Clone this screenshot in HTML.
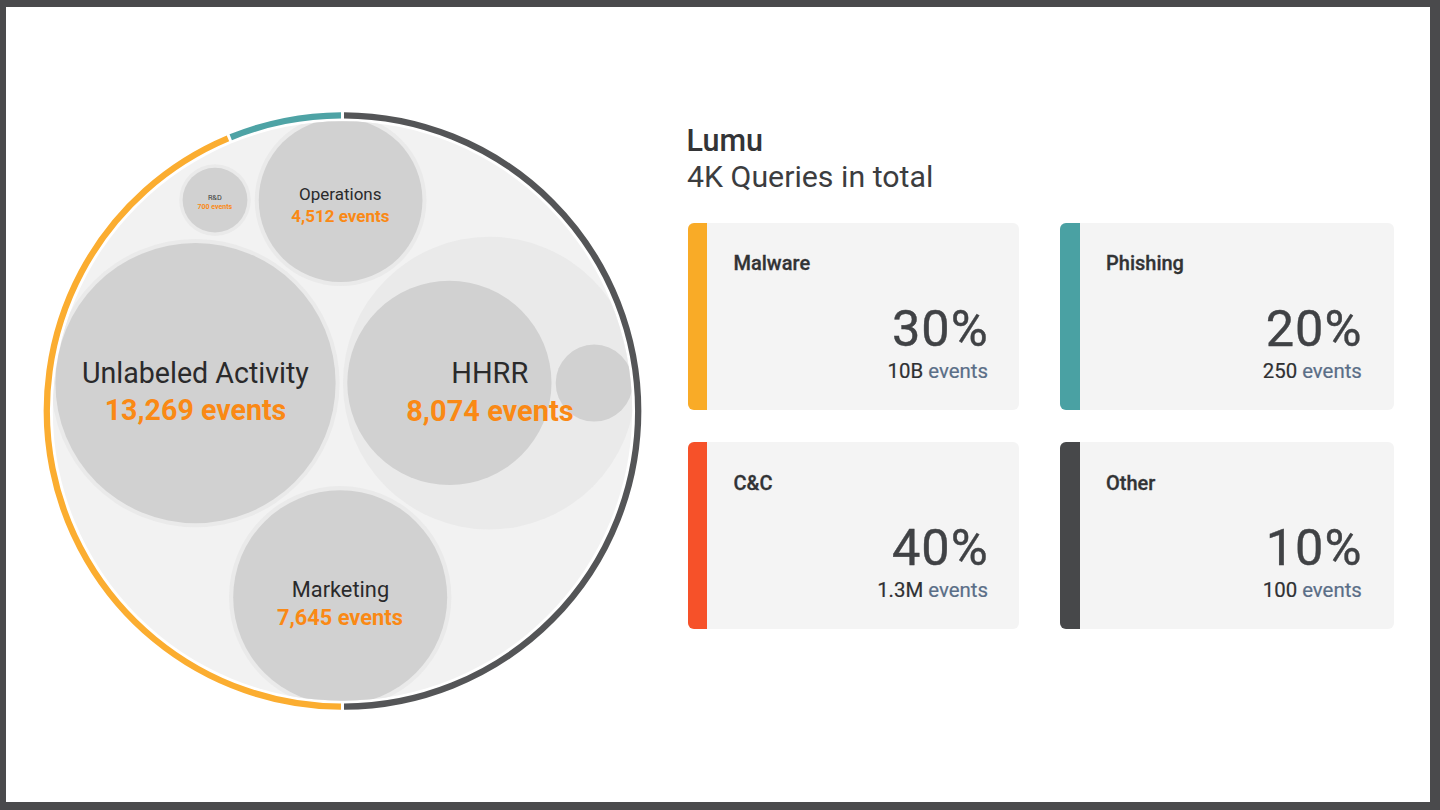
<!DOCTYPE html>
<html>
<head>
<meta charset="utf-8">
<style>
html,body{margin:0;padding:0;}
body{width:1440px;height:810px;background:#4a4a4c;position:relative;overflow:hidden;font-family:"Roboto","Liberation Sans",sans-serif;}
#panel{position:absolute;left:6px;top:7px;width:1424px;height:795px;background:#fff;}
#chart{position:absolute;left:0;top:0;}
.t{position:absolute;white-space:nowrap;line-height:1;}
.title{left:686.6px;top:125.5px;font-size:30.5px;letter-spacing:0;font-weight:500;color:#333436;}
.sub{left:687px;top:162.2px;font-size:30.3px;font-weight:400;color:#3c3d3f;}
.card{position:absolute;width:332px;height:187px;background:#f4f4f4;border-radius:6px;overflow:hidden;}
.card .bar{position:absolute;left:0;top:0;bottom:0;width:19.6px;}
.card .lbl{position:absolute;left:46px;top:30.3px;font-size:20px;font-weight:500;color:#323335;line-height:1;white-space:nowrap;-webkit-text-stroke-width:0.3px;}
.card .pct{position:absolute;right:30.8px;top:80.8px;font-size:50.5px;letter-spacing:1px;-webkit-text-stroke:0.4px #404245;font-weight:400;color:#404245;line-height:1;white-space:nowrap;}
.card .ev{position:absolute;right:31.5px;top:138px;font-size:20.4px;font-weight:400;color:#2f3032;line-height:1;white-space:nowrap;-webkit-text-stroke-width:0.2px;}
.card .ev span{color:#5a6e87;}
.c1{width:331.3px;} .c2{width:333.9px;}
.c1 .pct{right:30.1px;} .c1 .ev{right:30.8px;}
.c2 .pct{right:31.4px;} .c2 .ev{right:32px;}
</style>
</head>
<body>
<div id="panel"></div>
<svg id="chart" width="1440" height="810" viewBox="0 0 1440 810">
  <defs>
    <clipPath id="clipBg"><circle cx="342.5" cy="411" r="289.7"/></clipPath>
  </defs>
  <circle cx="342.5" cy="411" r="289.7" fill="#f2f2f2"/>
  <g clip-path="url(#clipBg)">
    <!-- Unlabeled -->
    <circle cx="195.5" cy="383.1" r="144.1" fill="#eaeaea"/>
    <circle cx="195.5" cy="383.1" r="140.1" fill="#d1d1d1"/>
    <!-- HHRR parent -->
    <circle cx="489.35" cy="383.15" r="146.35" fill="#eaeaea"/>
    <circle cx="449.4" cy="382.9" r="102.1" fill="#d1d1d1"/>
    <circle cx="594.2" cy="383.1" r="38.5" fill="#d1d1d1"/>
    <!-- Operations -->
    <circle cx="340.6" cy="200.25" r="85.85" fill="#eaeaea"/>
    <circle cx="340.6" cy="200.25" r="81.85" fill="#d1d1d1"/>
    <!-- Marketing -->
    <circle cx="340.2" cy="597.3" r="111.2" fill="#eaeaea"/>
    <circle cx="340.2" cy="597.3" r="107" fill="#d1d1d1"/>
    <!-- R&D -->
    <circle cx="215" cy="200.1" r="35.8" fill="#eaeaea"/>
    <circle cx="215" cy="200.1" r="32.4" fill="#d1d1d1"/>
  </g>
  <g fill="none" stroke-width="6.3" stroke-linecap="butt">
    <path d="M343.997 115.304 A295.7 295.7 0 0 1 638.200 411.000 A295.7 295.7 0 0 1 343.997 706.696" stroke="#545557"/>
    <path d="M341.003 706.696 A295.7 295.7 0 0 1 52.482 468.688 A295.7 295.7 0 0 1 227.959 138.385" stroke="#fbad30"/>
    <path d="M230.725 137.240 A295.7 295.7 0 0 1 284.812 120.982 A295.7 295.7 0 0 1 341.003 115.304" stroke="#4ea3a5"/>
  </g>
  <g font-family="Roboto, 'Liberation Sans', sans-serif" text-anchor="middle">
    <text x="195.4" y="382.6" font-size="28.6" fill="#2a2a2b">Unlabeled Activity</text>
    <text x="195.5" y="420.3" font-size="28.6" font-weight="700" fill="#fa8915">13,269 events</text>
    <text x="489.8" y="382.8" font-size="29" fill="#2a2a2b">HHRR</text>
    <text x="490" y="421" font-size="29" font-weight="700" fill="#fa8915">8,074 events</text>
    <text x="340.25" y="199.7" font-size="17" fill="#2a2a2b">Operations</text>
    <text x="340.4" y="221.9" font-size="17" font-weight="700" fill="#fa8915">4,512 events</text>
    <text x="340.45" y="596.9" font-size="21.8" fill="#2a2a2b">Marketing</text>
    <text x="339.9" y="624.9" font-size="21.8" font-weight="700" fill="#fa8915">7,645 events</text>
    <text x="214.8" y="200" font-size="7.3" fill="#3a3a3b">R&amp;D</text>
    <text x="214.8" y="209.4" font-size="7" font-weight="700" fill="#fa8915">700 events</text>
  </g>
</svg>

<div class="t title">Lumu</div>
<div class="t sub">4K Queries in total</div>

<div class="card c1" style="left:687.5px;top:223px;">
  <div class="bar" style="background:#f9ab27"></div>
  <div class="lbl">Malware</div>
  <div class="pct">30%</div>
  <div class="ev">10B <span>events</span></div>
</div>
<div class="card c2" style="left:1060px;top:223px;">
  <div class="bar" style="background:#4aa1a3"></div>
  <div class="lbl">Phishing</div>
  <div class="pct">20%</div>
  <div class="ev">250 <span>events</span></div>
</div>
<div class="card c1" style="left:687.5px;top:442.3px;height:186.4px;">
  <div class="bar" style="background:#f65129"></div>
  <div class="lbl">C&amp;C</div>
  <div class="pct">40%</div>
  <div class="ev">1.3M <span>events</span></div>
</div>
<div class="card c2" style="left:1060px;top:442.3px;height:186.4px;">
  <div class="bar" style="background:#47484a"></div>
  <div class="lbl">Other</div>
  <div class="pct">10%</div>
  <div class="ev">100 <span>events</span></div>
</div>
</body>
</html>
